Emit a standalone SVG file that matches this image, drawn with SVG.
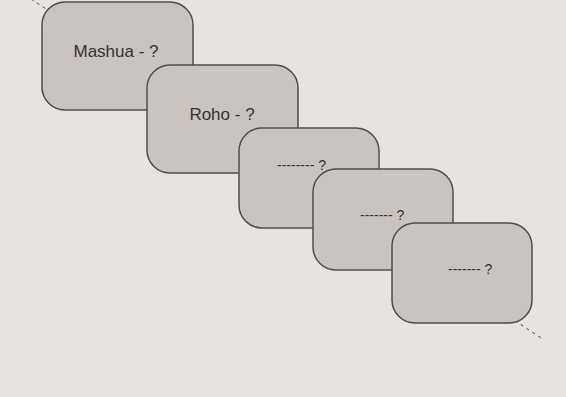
<svg xmlns="http://www.w3.org/2000/svg" width="566" height="397" viewBox="0 0 566 397">
<style>
.box{fill:#c9c4bf;stroke:#4d4d4d;stroke-width:1.5}
.lbl{font-family:"Liberation Sans",Arial,sans-serif;font-size:17px;fill:#333;text-anchor:middle}
.sm{font-family:"Liberation Sans",Arial,sans-serif;font-size:14px;fill:#333}
</style>
<rect width="566" height="397" fill="#e8e3de"/>
<g id="connectors">
<line x1="31" y1="-1" x2="541" y2="338" stroke="#444" stroke-width="1" stroke-dasharray="3,4"/>
</g>
<g id="n1"><rect class="box" x="42" y="2" width="151" height="108" rx="23"/><text class="lbl" x="116" y="57">Mashua - ?</text></g>
<g id="n2"><rect class="box" x="147" y="65" width="151" height="108" rx="23"/><text class="lbl" x="222" y="120">Roho - ?</text></g>
<g id="n3"><rect class="box" x="239" y="128" width="140" height="100" rx="23"/><text class="sm" x="277" y="170">-------- ?</text></g>
<g id="n4"><rect class="box" x="313" y="169" width="140" height="101" rx="23"/><text class="sm" x="360" y="220">------- ?</text></g>
<g id="n5"><rect class="box" x="392" y="223" width="140" height="100" rx="23"/><text class="sm" x="448" y="274">------- ?</text></g>
</svg>
